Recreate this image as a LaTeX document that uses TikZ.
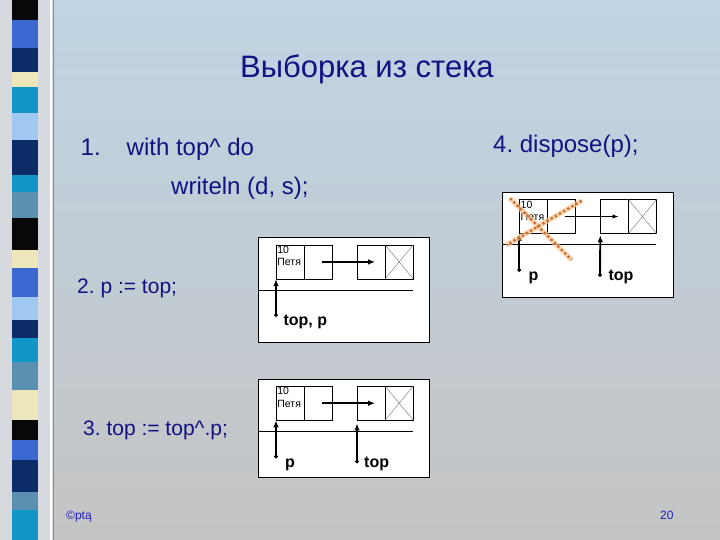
\documentclass[tikz,border=0pt]{standalone}
\usepackage{fontspec}
\setmainfont{Liberation Sans}
\usetikzlibrary{arrows.meta}
\frenchspacing
\definecolor{textblue}{RGB}{18,18,130}
\definecolor{footblue}{RGB}{30,30,190}
\definecolor{bgtop}{RGB}{192,212,228}
\definecolor{bgbottom}{RGB}{196,196,196}
\definecolor{stripbg}{RGB}{214,218,222}
\definecolor{stblack}{RGB}{8,8,8}
\definecolor{stblue}{RGB}{58,104,208}
\definecolor{stnavy}{RGB}{12,44,104}
\definecolor{stcream}{RGB}{236,230,186}
\definecolor{stcyan}{RGB}{18,150,200}
\definecolor{stlight}{RGB}{160,200,240}
\definecolor{ststeel}{RGB}{92,144,176}
\definecolor{crossline}{RGB}{200,112,60}
\tikzstyle{cell}=[rectangle, draw=black, fill=white, minimum width=28pt, minimum height=34pt, inner sep=0pt, anchor=north west]
\tikzstyle{frame}=[rectangle, draw=black, line width=0.6pt, fill=white, inner sep=0pt, anchor=north west]
\tikzstyle{celltext}=[anchor=north west, align=left, inner sep=1.2pt, font=\fontsize{10.5}{12.5}\selectfont]
\tikzstyle{cross}=[draw=black!55, line width=0.4pt]
\tikzstyle{link}=[-{Latex[length=7pt,width=5.5pt]}, line width=1.9pt]
\tikzstyle{ptr}=[{Circle[length=3.5pt]}-{Latex[length=7pt,width=5.5pt]}, line width=2.2pt]
\tikzstyle{rule}=[draw=black, line width=0.6pt]
\tikzstyle{lbl}=[anchor=base west, inner sep=0pt, font=\bfseries\fontsize{16}{18}\selectfont]
\tikzstyle{txt}=[text=textblue, anchor=base west, inner sep=0pt, font=\fontsize{24}{28}\selectfont]
\tikzstyle{steptxt}=[txt, font=\fontsize{21}{25}\selectfont]
\tikzstyle{foot}=[text=footblue, anchor=base west, inner sep=0pt, font=\fontsize{12}{14}\selectfont]
\newcommand{\drawlist}[3]
{
  \node[cell] (#1a) at (#2,#3) {};
  \node[cell] (#1b) at ({#2+28},#3) {};
  \node[cell] (#1c) at ({#2+81},#3) {};
  \node[cell] (#1d) at ({#2+109},#3) {};
  \node[celltext] (#1t) at (#1a.north west) {10\\Петя};
  \draw[cross] (#1d.north west) -- (#1d.south east) (#1d.south west) -- (#1d.north east);
}

\begin{document}
\begin{tikzpicture}[x=1pt,y=-1pt]
	\useasboundingbox (0,0) rectangle (720,540);
	\shade[top color=bgtop, bottom color=bgbottom] (0,0) rectangle (720,540);

	% left stripe
	\fill[stripbg] (0,0) rectangle (54,540);
	\foreach \a/\b/\c in {0/20/stblack, 20/48/stblue, 48/72/stnavy, 72/87/stcream, 87/113/stcyan, 113/140/stlight, 140/175/stnavy, 175/192/stcyan, 192/218/ststeel, 218/250/stblack, 250/268/stcream, 268/297/stblue, 297/320/stlight, 320/338/stnavy, 338/362/stcyan, 362/390/ststeel, 390/420/stcream, 420/440/stblack, 440/460/stblue, 460/492/stnavy, 492/510/ststeel, 510/540/stcyan}
		\fill[\c] (12,\a) rectangle (38,\b);
	\draw[white, line width=1.2pt] (51,0) -- (51,540);
	\draw[black!45, line width=0.6pt] (53.5,0) -- (53.5,540);

	% texts
	\node[txt, font=\fontsize{31}{35}\selectfont] (title) at (240,78) {Выборка из стека};
	\node[txt] (s1) at (80.5,155.5) {1.};
	\node[txt] (s1a) at (126.5,155.5) {with top\textasciicircum{} do};
	\node[txt] (s1b) at (171,194.5) {writeln (d, s);};
	\node[steptxt] (s2) at (77,293.5) {2. p := top;};
	\node[steptxt] (s3) at (83,435) {3. top := top\textasciicircum.p;};
	\node[txt] (s4) at (493,153) {4. dispose(p);};
	\node[foot] (copy) at (66,519) {©ptą};
	\node[foot] (num) at (660,519) {20};

	% step 2
	\node[frame, minimum width=171pt, minimum height=105pt] (fr2) at (258.3,236.7) {};
	\drawlist{l2}{276}{244.7}
	\draw[link] ([xshift=4pt]l2b.center) -- ([xshift=4pt]l2c.center);
	\draw[rule] (258.3,290) -- (413.3,290);
	\coordinate (q2) at (276,316.7);
	\draw[ptr] (q2) -- (l2a.south west);
	\node[lbl] (tp2) at (283.3,325.7) {top, p};

	% step 3
	\node[frame, minimum width=171pt, minimum height=98pt] (fr3) at (258.3,379) {};
	\drawlist{l3}{276}{386}
	\draw[link] ([xshift=4pt]l3b.center) -- ([xshift=4pt]l3c.center);
	\draw[rule] (258.3,431) -- (413.3,431);
	\coordinate (q3) at (276,458.3);
	\coordinate (t3) at (357,463.3);
	\draw[ptr] (q3) -- (l3a.south west);
	\draw[ptr] (t3) -- ([yshift=-3pt]l3c.south west);
	\node[lbl] (p3) at (285,467.3) {p};
	\node[lbl] (top3) at (364,467.3) {top};

	% step 4
	\node[frame, minimum width=171pt, minimum height=105pt] (fr4) at (502.3,191.7) {};
	\drawlist{l4}{519.3}{199.3}
	\draw[link, line width=1pt, -{Latex[length=6pt,width=4.5pt]}] ([xshift=3pt]l4b.center) -- ([xshift=4pt]l4c.center);
	\draw[rule] (503,244) -- (656,244);
	\coordinate (q4) at (519.3,271.7);
	\coordinate (t4) at (600,276.7);
	\draw[ptr, line width=1.9pt] (q4) -- (l4a.south west);
	\draw[ptr, line width=1.9pt] (t4) -- ([yshift=-1.5pt]l4c.south west);
	\node[lbl] (p4) at (528.3,280) {p};
	\node[lbl] (top4) at (608.3,280) {top};
	\draw[orange!45, line width=5pt, opacity=0.7] (510,198.3) -- (571.7,260) (581.7,200.7) -- (506.7,245);
	\draw[crossline, line width=2.4pt, dash pattern=on 2.4pt off 2.4pt] (510,198.3) -- (571.7,260) (581.7,200.7) -- (506.7,245);

\end{tikzpicture}
\end{document}
